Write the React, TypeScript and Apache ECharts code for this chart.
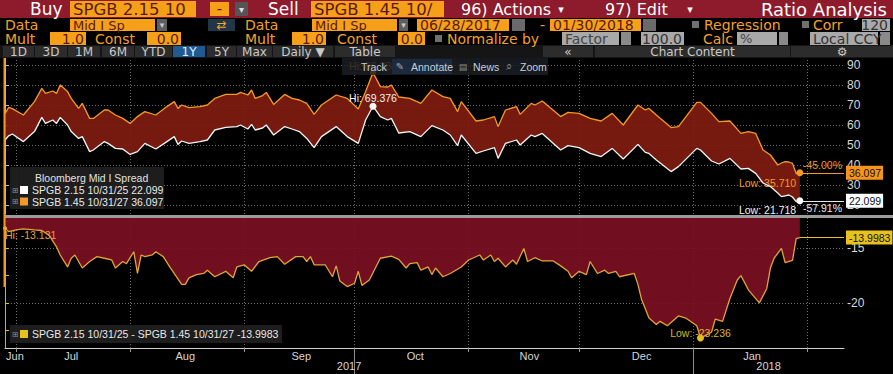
import React, { useEffect, useRef } from "react";
import * as echarts from "echarts";

// Days counted from 06/28/2017
const topDays = [0,1,2,5,8,10,11,13,14,15,17,18,20,21,23,24,27,28,30,32,34,36,38,41,44,46,47,48,50,53,55,57,60,63,64,66,67,68,70,71,73,76,78,80,82,84,86,90,93,96,98,100,102,104,105,107,110,113,116,119,121,123,124,128,130,133,134,136,139,140,143,144,146,151,153,156,159,162,165,168,172,174,175,177,181,183,188,189,192,194,197,200,202,204,206,208,210,211,212,213,214,215,216];
// SPGB 1.45 10/31/27 (orange)
const spgb27 = [65.63,68.8,68.2,65,71.7,78.3,75.8,77,75.8,80,76.7,73.3,68.3,70.8,63.3,63.3,67.5,67.5,65,63.3,60.8,64.2,66.7,65,69.2,71.7,68.3,70,68.7,69.2,70,73.3,75.3,75.3,76.3,75,77.5,73.3,74.7,76.3,70.3,75.3,73.3,72.5,70.8,65.3,70,75,73.3,68,76.7,86.28,79.2,79,80,74,73.3,70.8,77.5,74.2,73.3,66.7,71.7,62,62.5,64.2,59.2,67.5,69.2,65.3,70.8,70,72,64.2,66.3,65.8,63.3,62,65.8,60,70,67.5,68.3,65,58.7,59.2,71.3,71.3,65.8,61.7,62,55.8,56.7,55.8,47.5,45,40,41,41.7,41.5,40.8,35.71,36.097];
// SPGB 2.15 10/31/25 (white)
const spgb25 = [52.5,54.6,55.5,51.7,56.7,63.8,60.8,62.5,60.8,63.8,60,56.7,53.3,54.2,46.7,47.5,51.7,50.8,48.3,48,45.3,46.7,50.8,48,51.7,54.2,50.3,52,50.8,51.7,52.5,57.5,58.8,59.2,60,58,60.3,57.5,58.5,60,55,59.2,58,56.7,53.3,48.7,54.2,59.2,54.2,50.8,62.5,69.376,64.2,62.5,63.3,56,56.7,54.2,59.7,57.5,55,49.7,55,45.8,47,48.7,43.3,50.8,52.5,50,55,54.2,55.8,47.5,49.7,48.7,45.8,44.2,48.3,43,50.3,46.3,45.8,42.5,36.7,39.2,48.3,47.5,42,40.5,43.3,38,38.3,35.8,31,29.2,26,24.2,24.6,25,24,21.718,22.099];
// SPGB 2.15 10/31/25 - SPGB 1.45 10/31/27
const spreadDays = [0,1,3,5,8,10,12,14,15,17,18,19,21,23,25,27,29,30,32,33,35,36,37,38,40,41,43,45,48,49,50,52,54,55,57,60,62,63,65,67,69,72,74,76,79,81,82,83,84,87,89,90,91,93,95,96,97,99,102,105,107,109,110,112,113,115,116,117,119,121,124,126,129,130,132,133,134,136,138,139,141,142,144,146,149,151,153,154,156,158,159,161,163,164,166,167,171,172,173,175,177,178,180,183,185,188,189,192,193,195,197,199,200,202,205,207,208,209,211,212,214,215,216];
const spreadVals = [-13.131,-13.45,-13.3,-13.2,-13.3,-13.35,-13.8,-14.85,-15.6,-16.7,-15.9,-15.6,-16.8,-16.2,-15.75,-15.9,-16.06,-16.8,-16.2,-16.4,-15.3,-17.3,-15.6,-15.75,-15.6,-15.3,-15.75,-16.8,-18.3,-18.3,-17.7,-17.4,-17.3,-17,-17.6,-17.1,-17.7,-16.7,-16.5,-17.1,-16.2,-15.85,-15.75,-16.45,-15.75,-15.75,-16.2,-15.75,-16.5,-16.5,-17.6,-16.6,-18,-18.5,-18.2,-17.1,-18.4,-17.9,-15.9,-15.7,-16,-16.8,-16.4,-16.3,-17,-16.7,-17.4,-16.8,-17.6,-17.3,-16.7,-16.06,-15.6,-16.06,-15.6,-16.2,-15.9,-16.7,-16.06,-16.45,-15,-16.2,-15.85,-16.15,-16.15,-16.6,-17.1,-17.7,-17.1,-17.4,-16.2,-17.3,-17,-17.3,-17.1,-17.6,-17.3,-18.3,-19.7,-21.4,-22,-21.7,-22.1,-21.2,-21.4,-22.1,-23.236,-22.7,-21.5,-21.7,-19.6,-17.9,-17.5,-18.8,-20,-18.7,-16.8,-15.9,-15,-16.3,-16.1,-14.1,-13.9983];

const monthStartDays = [3, 34, 65, 95, 126, 156, 187, 218];
const monthLabelDays = [2.7, 18, 49, 80.5, 111.5, 142.5, 173, 203];
const monthLabels = ["Jun", "Jul", "Aug", "Sep", "Oct", "Nov", "Dec", "Jan"];
const yearTickDays = [95, 187];
const yearLabelDays = [93.5, 207.5];
const yearLabels = ["2017", "2018"];
const topTicks = [20, 30, 40, 50, 60, 70, 80, 90];
const bottomLabelTicks = [-20, -15];
const bottomAllTicks = [-22.5, -20, -17.5, -15, -12.5];

const X_MIN = 0, X_MAX = 228;
const ORANGE = "#f39a26";
const WHITE = "#f4f4f4";
const GOLD = "#e3a23a";
const YEL = "#e8c21c";
const TOP_FILL = "rgba(128,28,16,0.92)";
const BOT_FILL = "rgba(122,16,36,0.93)";
const HF = '"DejaVu Sans", sans-serif';
const CF = '"Liberation Sans", Arial, sans-serif';
const CS = 10.5;
const HEAD_RED = "#8d1b2b";
const OB = "#f6a01a";
const OT = "#f3a12a";
const DARK = "#5a1a10";
const GB = "#a9a9a9";
const DD = "#5e5e5e";

function R(x: number, y: number, w: number, h: number, fill: string, z = 20): any {
  return { type: "rect", silent: true, z, shape: { x, y, width: w, height: h }, style: { fill } };
}
function T(x: number, y: number, text: string, fill: string, size: number, family = HF, align = "left", z = 21): any {
  return {
    type: "text", silent: true, z, x, y,
    style: { text, fill, font: `${size}px ${family}`, textAlign: align, textVerticalAlign: "middle", align, verticalAlign: "middle" },
  };
}

function buildGraphics(last25: string, last27: string, lastSp: string): any[] {
  const g: any[] = [];
  // Row 1
  g.push(R(0, 0, 893, 18, HEAD_RED));
  g.push(T(30, 9, "Buy", "#fff", 17));
  g.push(R(70, 1, 126, 16, OB)); g.push(T(73, 9, "SPGB 2.15 10", DARK, 16.5));
  g.push(R(210, 2, 19, 14, OB)); g.push(T(219.5, 9, "-", DARK, 15, HF, "center"));
  g.push(R(235, 2, 13, 14, "#555")); g.push(T(241.5, 9, "▾", "#ddd", 10, HF, "center"));
  g.push(T(268, 9, "Sell", "#fff", 17));
  g.push(R(311, 1, 133, 16, OB)); g.push(T(314, 9, "SPGB 1.45 10/", DARK, 16.5));
  g.push(T(461, 9, "96) Actions", "#fff", 16)); g.push(T(561, 9, "▾", "#fff", 11, HF, "center"));
  g.push(T(605, 9, "97) Edit", "#fff", 16)); g.push(T(690, 9, "▾", "#fff", 11, HF, "center"));
  g.push(T(887, 9, "Ratio Analysis", "#fff", 18, HF, "right"));
  // Row 2
  const y2 = 25;
  g.push(T(5, y2, "Data", OT, 14));
  g.push(R(70, 19, 85, 12, OB)); g.push(T(73, y2, "Mid I Sp", DARK, 13));
  g.push(R(157, 19, 10, 12, DD)); g.push(T(162, y2, "▾", "#ccc", 9, HF, "center"));
  g.push(R(208, 19, 27, 12, "#22364a")); g.push(T(221.5, y2, "⇄", "#f5a623", 12, HF, "center"));
  g.push(T(245, y2, "Data", OT, 14));
  g.push(R(312, 19, 85, 12, OB)); g.push(T(315, y2, "Mid I Sp", DARK, 13));
  g.push(R(399, 19, 9, 12, DD)); g.push(T(403.5, y2, "▾", "#ccc", 9, HF, "center"));
  g.push(R(417, 19, 92, 12, OB)); g.push(T(420, y2, "06/28/2017", DARK, 14));
  g.push(R(512, 19, 13, 12, "#6a6a6a"));
  g.push(T(540, y2, "-", OT, 14));
  g.push(R(550, 19, 91, 12, OB)); g.push(T(553, y2, "01/30/2018", DARK, 14));
  g.push(R(643, 19, 13, 12, "#6a6a6a"));
  g.push(R(692, 21, 7, 7, "#707070"));
  g.push(T(704, y2, "Regression", OT, 14));
  g.push(R(802, 21, 7, 7, "#707070"));
  g.push(T(813, y2, "Corr", OT, 14));
  g.push(R(862, 19, 28, 12, GB)); g.push(T(888, y2, "120", "#333", 14, HF, "right"));
  // Row 3
  const y3 = 38.5;
  g.push(T(5, y3, "Mult", OT, 14));
  g.push(R(50, 32, 36, 13, OB)); g.push(T(84, y3, "1.0", DARK, 14, HF, "right"));
  g.push(T(95, y3, "Const", OT, 14));
  g.push(R(147, 32, 34, 13, OB)); g.push(T(179, y3, "0.0", DARK, 14, HF, "right"));
  g.push(T(245, y3, "Mult", OT, 14));
  g.push(R(292, 32, 34, 13, OB)); g.push(T(324, y3, "1.0", DARK, 14, HF, "right"));
  g.push(T(337, y3, "Const", OT, 14));
  g.push(R(398, 32, 27, 13, OB)); g.push(T(423, y3, "0.0", DARK, 14, HF, "right"));
  g.push(R(435, 35, 7, 7, "#707070"));
  g.push(T(447, y3, "Normalize by", OT, 14));
  g.push(R(562, 32, 57, 13, GB)); g.push(T(565, y3, "Factor", "#444", 14));
  g.push(R(621, 32, 10, 13, "#8a8a8a"));
  g.push(R(641, 32, 43, 13, GB)); g.push(T(682, y3, "100.0", "#333", 14, HF, "right"));
  g.push(T(703, y3, "Calc", OT, 14));
  g.push(R(737, 32, 40, 13, GB)); g.push(T(740, y3, "%", "#444", 13));
  g.push(R(779, 32, 9, 13, "#8a8a8a"));
  g.push(R(810, 32, 68, 13, GB)); g.push(T(813, y3, "Local CCY", "#333", 14));
  g.push(R(880, 32, 10, 13, "#8a8a8a"));
  // Row 4 buttons
  g.push(R(0, 45, 893, 13, "#151515"));
  const btns: [number, number, string, boolean][] = [
    [3, 31, "1D", false], [35, 32, "3D", false], [68, 32, "1M", false], [102, 32, "6M", false],
    [135, 37, "YTD", false], [173, 32, "1Y", true], [207, 29, "5Y", false], [237, 35, "Max", false],
    [273, 60, "Daily ▼", false], [335, 60, "Table", false], [543, 50, "«", false],
    [595, 195, "Chart Content", false], [791, 102, "⚙", false],
  ];
  for (const [x, w, l, a] of btns) {
    g.push(R(x, 46, w, 11, a ? "#1f5b92" : "#2c2c2c"));
    g.push(T(x + w / 2, 52, l, a ? "#e6eef6" : "#c9c9c9", 12, HF, "center"));
  }
  // separator between panels
  g.push(R(5, 215, 888, 3, "#9c9c9c"));
  // left orange marker
  g.push({ type: "line", silent: true, z: 22, shape: { x1: 4.5, y1: 58, x2: 4.5, y2: 287 }, style: { stroke: ORANGE, lineWidth: 2 } });
  // chart toolbar
  g.push(R(342, 58, 206, 17, "rgba(26,30,36,0.84)", 30));
  g.push(R(392, 59, 60, 15, "#1b2a3d", 30));
  const ty = 66.5;
  g.push(T(361, ty, "Track", "#c9ced4", CS, CF, "left", 31));
  g.push(T(400, ty, "✎", "#9aa3ad", 10, HF, "center", 31));
  g.push(T(411, ty, "Annotate", "#c9ced4", CS, CF, "left", 31));
  g.push(T(463, ty, "▤", "#8a8a8a", 9, HF, "center", 31));
  g.push(T(473, ty, "News", "#c9ced4", CS, CF, "left", 31));
  g.push(T(509, ty, "⌕", "#8a8a8a", 11, HF, "center", 31));
  g.push(T(520, ty, "Zoom", "#c9ced4", CS, CF, "left", 31));
  // top legend
  g.push(R(10, 167, 154, 42, "rgba(32,32,32,0.92)", 30));
  g.push(T(35, 178, "Bloomberg Mid I Spread", "#e2e2e2", CS, CF, "left", 31));
  g.push(T(15, 190, "⊞", "#8a8a8a", 8, HF, "center", 31));
  g.push(R(20, 186, 8, 8, "#ffffff", 31));
  g.push(T(32, 190, `SPGB 2.15 10/31/25 ${last25}`, "#e8e8e8", CS, CF, "left", 31));
  g.push(T(15, 201.5, "⊞", "#8a8a8a", 8, HF, "center", 31));
  g.push(R(20, 197.5, 8, 8, ORANGE, 31));
  g.push(T(32, 201.5, `SPGB 1.45 10/31/27 ${last27}`, "#e8e8e8", CS, CF, "left", 31));
  // bottom legend
  g.push(R(10, 325, 272, 18, "rgba(32,32,32,0.92)", 30));
  g.push(T(15, 334, "⊞", "#8a8a8a", 8, HF, "center", 31));
  g.push(R(20, 330, 8, 8, YEL, 31));
  g.push(T(32, 334, `SPGB 2.15 10/31/25 - SPGB 1.45 10/31/27 ${lastSp}`, "#e8e8e8", CS, CF, "left", 31));
  return g;
}

const dotted = { type: [1, 2] as any, color: "#6e6e6e", width: 1 };

export default function App() {
  const ref = useRef<HTMLDivElement>(null);
  useEffect(() => {
    if (!ref.current) return;
    const chart = echarts.init(ref.current, null, { renderer: "svg" });
    const n = topDays.length;
    const li = n - 1;
    const ls = spreadVals.length - 1;
    const idxMax = (a: number[]) => a.indexOf(Math.max(...a));
    const idxMin = (a: number[]) => a.indexOf(Math.min(...a));
    const pct = (a: number[]) => ((a[a.length - 1] / a[0] - 1) * 100).toFixed(2) + "%";
    const hi27 = idxMax(spgb27), lo27 = idxMin(spgb27);
    const hi25 = idxMax(spgb25), lo25 = idxMin(spgb25);
    const hiSp = idxMax(spreadVals), loSp = idxMin(spreadVals);
    const lab = (c: string, extra: any = {}) => ({ show: true, color: c, fontSize: CS, fontFamily: CF, ...extra });

    const endLine = (day: number, val: number, col: string, tagBg: string, tagText: string, pctText: string | null, pctPos: string) => {
      const d: any[] = [
        [
          { coord: [day, val], label: lab("#111", { position: "end", distance: 2, formatter: tagText, backgroundColor: tagBg, padding: [2, 2, 1, 3] }) },
          { coord: [X_MAX, val] },
        ],
      ];
      if (pctText) {
        d.push([
          { coord: [day, val], label: lab(col, { position: pctPos, distance: 2, formatter: pctText }) },
          { coord: [X_MAX, val] },
        ]);
      }
      return { symbol: "none", silent: true, animation: false, lineStyle: { color: col, type: "solid", width: 1 }, data: d };
    };

    const option: any = {
      animation: false,
      backgroundColor: "#000",
      graphic: buildGraphics(spgb25[li].toFixed(3), spgb27[li].toFixed(3), spreadVals[ls].toFixed(4)),
      grid: [
        { left: 5, right: 49, top: 57, height: 157 },
        { left: 5, right: 49, top: 218, height: 130 },
        { left: 5, right: 49, top: 347, height: 1 },
        { left: 5, right: 49, top: 218, height: 130 },
      ],
      xAxis: [
        {
          type: "value", gridIndex: 0, min: X_MIN, max: X_MAX,
          axisLine: { show: false }, axisLabel: { show: false },
          axisTick: { show: false, customValues: monthStartDays },
          splitLine: { show: true, lineStyle: dotted },
        },
        {
          type: "value", gridIndex: 1, min: X_MIN, max: X_MAX, position: "bottom",
          axisLine: { show: true, lineStyle: { color: "#d0d0d0", width: 1 } },
          axisTick: { show: true, customValues: monthStartDays, length: 4, lineStyle: { color: "#9a9a9a" } },
          axisLabel: {
            show: true, customValues: monthLabelDays, margin: 2, color: "#d6d6d6", fontSize: 11, fontFamily: CF,
            formatter: (v: number) => monthLabels[monthLabelDays.indexOf(v)] ?? "",
          },
          splitLine: { show: true, lineStyle: dotted },
        },
        {
          type: "value", gridIndex: 2, min: X_MIN, max: X_MAX, position: "bottom",
          axisLine: { show: false },
          axisTick: { show: true, customValues: yearTickDays, length: 26, lineStyle: { color: "#8a8a8a" } },
          axisLabel: {
            show: true, customValues: yearLabelDays, margin: 12, color: "#d6d6d6", fontSize: 11, fontFamily: CF,
            formatter: (v: number) => yearLabels[yearLabelDays.indexOf(v)] ?? "",
          },
          splitLine: { show: false },
        },
        { type: "value", gridIndex: 3, min: X_MIN, max: X_MAX, show: false },
      ],
      yAxis: [
        {
          type: "value", gridIndex: 0, position: "right", min: 15.5, max: 94,
          axisLine: { show: true, lineStyle: { color: "#bdbdbd" } },
          axisTick: { show: true, customValues: topTicks, length: 4, lineStyle: { color: "#bdbdbd" } },
          axisLabel: { show: true, customValues: topTicks, margin: 3, color: "#d8d8d8", fontSize: 12, fontFamily: CF },
          splitLine: { show: true, lineStyle: dotted },
        },
        {
          type: "value", gridIndex: 1, position: "right", min: -24.15, max: -12.2,
          axisLine: { show: true, lineStyle: { color: GOLD } },
          axisTick: { show: true, customValues: bottomAllTicks, length: 4, lineStyle: { color: YEL } },
          axisLabel: { show: true, customValues: bottomLabelTicks, margin: 3, color: "#d8d8d8", fontSize: 12, fontFamily: CF },
          splitLine: { show: false },
        },
        { type: "value", gridIndex: 2, min: 0, max: 1, show: false },
        {
          type: "value", gridIndex: 3, position: "right", min: -24.15, max: -12.2,
          axisLine: { show: false }, axisLabel: { show: false },
          axisTick: { show: false, customValues: bottomLabelTicks },
          splitLine: { show: true, lineStyle: dotted },
        },
      ],
      series: [
        {
          name: "band", type: "custom", xAxisIndex: 0, yAxisIndex: 0, silent: true, z: 2,
          data: topDays.map((d, i) => [d, spgb27[i], spgb25[i]]),
          encode: { x: 0, y: [1, 2] },
          renderItem: (params: any, api: any) => {
            if (params.dataIndex !== 0) return null;
            const pts: number[][] = [];
            for (let i = 0; i < n; i++) pts.push(api.coord([topDays[i], spgb27[i]]));
            for (let i = n - 1; i >= 0; i--) pts.push(api.coord([topDays[i], spgb25[i]]));
            return { type: "polygon", shape: { points: pts }, style: { fill: TOP_FILL } };
          },
        },
        {
          name: "SPGB 1.45 10/31/27", type: "line", xAxisIndex: 0, yAxisIndex: 0, silent: true, clip: false,
          symbol: "none", lineStyle: { color: ORANGE, width: 1.3 }, z: 4,
          data: topDays.map((d, i) => [d, spgb27[i]]),
          markPoint: {
            symbol: "circle", silent: true, animation: false, itemStyle: { color: ORANGE },
            data: [
              { coord: [topDays[hi27], spgb27[hi27]], symbolSize: 6, label: lab(ORANGE, { position: "top", distance: -2, formatter: "Hi: " + spgb27[hi27].toFixed(3) }) },
              { coord: [topDays[lo27], spgb27[lo27]], symbolSize: 0, label: lab(ORANGE, { position: "bottom", align: "right", distance: 4, formatter: "Low: " + spgb27[lo27].toFixed(3) }) },
              { coord: [topDays[li], spgb27[li]], symbolSize: 7, label: { show: false } },
            ],
          },
          markLine: endLine(topDays[li], spgb27[li], ORANGE, "#f7941d", spgb27[li].toFixed(3), pct(spgb27), "insideEndTop"),
        },
        {
          name: "SPGB 2.15 10/31/25", type: "line", xAxisIndex: 0, yAxisIndex: 0, silent: true, clip: false,
          symbol: "none", lineStyle: { color: WHITE, width: 1.3 }, z: 5,
          data: topDays.map((d, i) => [d, spgb25[i]]),
          markPoint: {
            symbol: "circle", silent: true, animation: false, itemStyle: { color: "#ffffff" },
            data: [
              { coord: [topDays[hi25], spgb25[hi25]], symbolSize: 7, label: lab("#f2f2f2", { position: "top", distance: -1, formatter: "Hi: " + spgb25[hi25].toFixed(3) }) },
              { coord: [topDays[lo25], spgb25[lo25]], symbolSize: 0, label: lab("#f2f2f2", { position: "bottom", align: "right", distance: 3, formatter: "Low: " + spgb25[lo25].toFixed(3) }) },
              { coord: [topDays[li], spgb25[li]], symbolSize: 7, label: { show: false } },
            ],
          },
          markLine: endLine(topDays[li], spgb25[li], "#e8e8e8", "#ffffff", spgb25[li].toFixed(3), pct(spgb25), "insideEndBottom"),
        },
        {
          name: "SPGB 2.15 10/31/25 - SPGB 1.45 10/31/27", type: "line", xAxisIndex: 1, yAxisIndex: 1, silent: true, clip: false,
          symbol: "none", lineStyle: { color: GOLD, width: 1.3 }, z: 4,
          areaStyle: { color: BOT_FILL, opacity: 1, origin: "end" },
          data: spreadDays.map((d, i) => [d, spreadVals[i]]),
          markPoint: {
            symbol: "circle", silent: true, animation: false, itemStyle: { color: YEL },
            data: [
              { coord: [spreadDays[hiSp], spreadVals[hiSp]], symbolSize: 4, label: lab(GOLD, { position: "inside", align: "left", offset: [0, 7], formatter: "Hi: " + spreadVals[hiSp].toFixed(3) }) },
              { coord: [spreadDays[loSp], spreadVals[loSp]], symbolSize: 7, label: lab("#d6b520", { position: "inside", offset: [0, -5], formatter: "Low: " + spreadVals[loSp].toFixed(3) }) },
            ],
          },
          markLine: endLine(spreadDays[ls], spreadVals[ls], YEL, YEL, spreadVals[ls].toFixed(4), null, "end"),
        },
      ],
    };
    chart.setOption(option);
    return () => chart.dispose();
  }, []);
  return (
    <div
      ref={ref}
      style={{ position: "absolute", left: 0, top: 0, width: 893, height: 374, background: "#000" }}
    />
  );
}
